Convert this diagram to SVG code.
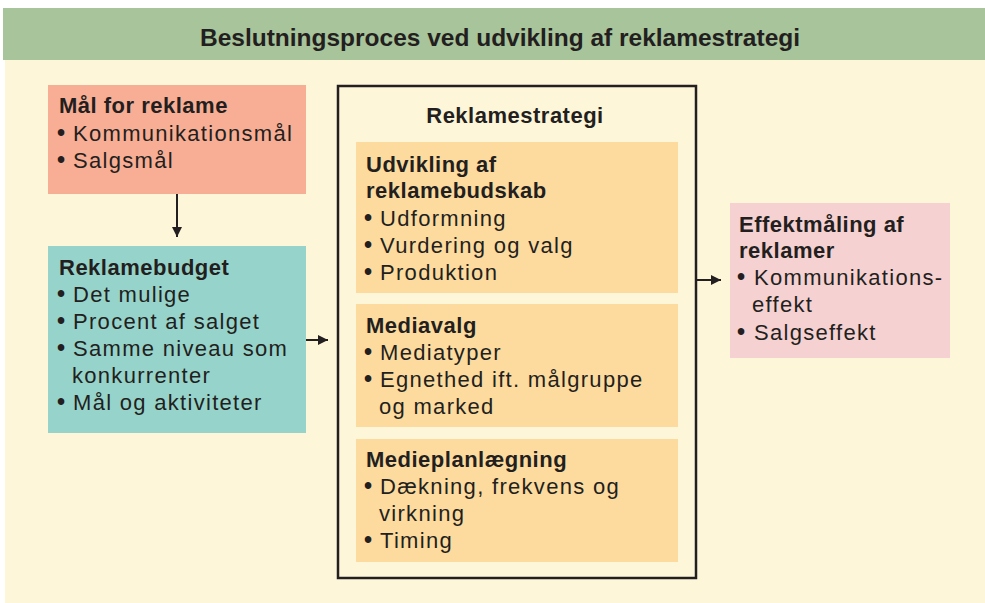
<svg xmlns="http://www.w3.org/2000/svg" width="985" height="603" viewBox="0 0 985 603">
<style>
.h{font-family:"Liberation Sans",Arial,sans-serif;font-weight:bold;font-size:22px;fill:#231f20;letter-spacing:0.5px}
.t{font-family:"Liberation Sans",Arial,sans-serif;font-size:22px;fill:#231f20;letter-spacing:1.3px}
.b{font-size:23px;letter-spacing:0;font-weight:bold}
.title{font-family:"Liberation Sans",Arial,sans-serif;font-weight:bold;font-size:24px;fill:#231f20}
.conn{stroke:#231f20;stroke-width:2;fill:none}
</style>
<defs>
<marker id="ah" viewBox="0 0 10 10" refX="10" refY="5" markerWidth="10" markerHeight="10" markerUnits="userSpaceOnUse" orient="auto">
<path d="M0,0 L10,5 L0,10 Z" fill="#231f20"/>
</marker>
</defs>
<rect x="0" y="0" width="985" height="603" fill="#ffffff"/>
<rect x="5" y="60" width="980" height="543" fill="#fef6d9"/>
<g id="header">
<rect x="3" y="8" width="982" height="52" fill="#a8c49a"/>
<text class="title" x="500" y="46" text-anchor="middle" textLength="600" lengthAdjust="spacingAndGlyphs">Beslutningsproces ved udvikling af reklamestrategi</text>
</g>
<g id="maal">
<rect x="48" y="85" width="258" height="109" fill="#f8ae94"/>
<text class="h" x="59" y="113">Mål for reklame</text>
<text class="t" y="141"><tspan class="b" x="57">•</tspan><tspan x="73">Kommunikationsmål</tspan></text>
<text class="t" y="168"><tspan class="b" x="57">•</tspan><tspan x="73">Salgsmål</tspan></text>
</g>
<g id="budget">
<rect x="48" y="246" width="258" height="187" fill="#96d4cb"/>
<text class="h" x="59" y="275">Reklamebudget</text>
<text class="t" y="302"><tspan class="b" x="57">•</tspan><tspan x="73">Det mulige</tspan></text>
<text class="t" y="329"><tspan class="b" x="57">•</tspan><tspan x="73">Procent af salget</tspan></text>
<text class="t" y="356"><tspan class="b" x="57">•</tspan><tspan x="73">Samme niveau som</tspan></text>
<text class="t" x="72" y="383">konkurrenter</text>
<text class="t" y="410"><tspan class="b" x="57">•</tspan><tspan x="73">Mål og aktiviteter</tspan></text>
</g>
<g id="strategi">
<rect x="338" y="86" width="358" height="492" fill="none" stroke="#231f20" stroke-width="2.5"/>
<text class="h" x="515" y="123" text-anchor="middle">Reklamestrategi</text>
</g>
<g id="budskab">
<rect x="356" y="142" width="322" height="151" fill="#fddb9e"/>
<text class="h" x="366" y="172">Udvikling af</text>
<text class="h" x="366" y="198">reklamebudskab</text>
<text class="t" y="226"><tspan class="b" x="364">•</tspan><tspan x="380">Udformning</tspan></text>
<text class="t" y="253"><tspan class="b" x="364">•</tspan><tspan x="380">Vurdering og valg</tspan></text>
<text class="t" y="280"><tspan class="b" x="364">•</tspan><tspan x="380">Produktion</tspan></text>
</g>
<g id="mediavalg">
<rect x="356" y="304" width="322" height="123" fill="#fddb9e"/>
<text class="h" x="366" y="333">Mediavalg</text>
<text class="t" y="360"><tspan class="b" x="364">•</tspan><tspan x="380">Mediatyper</tspan></text>
<text class="t" y="387"><tspan class="b" x="364">•</tspan><tspan x="380">Egnethed ift. målgruppe</tspan></text>
<text class="t" x="379" y="414">og marked</text>
</g>
<g id="medieplan">
<rect x="356" y="439" width="322" height="123" fill="#fddb9e"/>
<text class="h" x="366" y="467">Medieplanlægning</text>
<text class="t" y="494"><tspan class="b" x="364">•</tspan><tspan x="380">Dækning, frekvens og</tspan></text>
<text class="t" x="379" y="521">virkning</text>
<text class="t" y="548"><tspan class="b" x="364">•</tspan><tspan x="380">Timing</tspan></text>
</g>
<g id="effekt">
<rect x="730" y="203" width="220" height="155" fill="#f5d1d1"/>
<text class="h" x="739" y="232">Effektmåling af</text>
<text class="h" x="739" y="258">reklamer</text>
<text class="t" y="285"><tspan class="b" x="737">•</tspan><tspan x="754">Kommunikations-</tspan></text>
<text class="t" x="752" y="312">effekt</text>
<text class="t" y="340"><tspan class="b" x="737">•</tspan><tspan x="754">Salgseffekt</tspan></text>
</g>
<g id="connectors">
<line class="conn" x1="177" y1="194" x2="177" y2="237" marker-end="url(#ah)"/>
<line class="conn" x1="306" y1="340" x2="328" y2="340" marker-end="url(#ah)"/>
<line class="conn" x1="697" y1="280" x2="721" y2="280" marker-end="url(#ah)"/>
</g>
</svg>
